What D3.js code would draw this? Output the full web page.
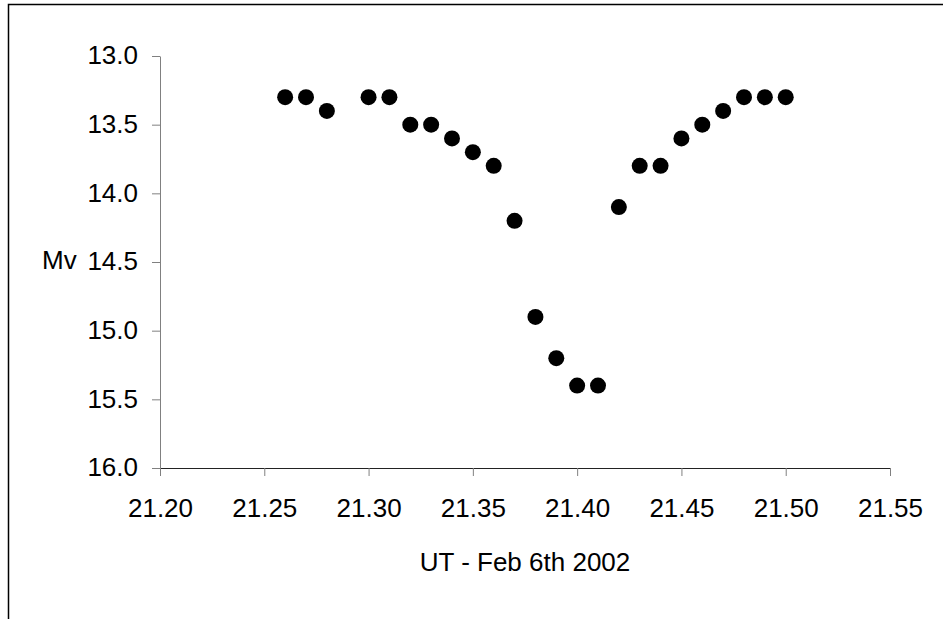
<!DOCTYPE html>
<html>
<head>
<meta charset="utf-8">
<script src="https://cdn.jsdelivr.net/npm/d3@7"></script>
<style>
  body { margin: 0; background: #fff; }
  text { font-family: Arial, "Liberation Sans", sans-serif; }
</style>
</head>
<body>
<div class="graphArea"></div>
<script>
// UT times and magnitudes
const times = [21.26, 21.27, 21.28, 21.30, 21.31, 21.32, 21.33, 21.34, 21.35, 21.36,
  21.37, 21.38, 21.39, 21.40, 21.41, 21.42, 21.43, 21.44, 21.45, 21.46,
  21.47, 21.48, 21.49, 21.50];
const mags = [13.3, 13.3, 13.4, 13.3, 13.3, 13.5, 13.5, 13.6, 13.7, 13.8,
  14.2, 14.9, 15.2, 15.4, 15.4, 14.1, 13.8, 13.8, 13.6, 13.5,
  13.4, 13.3, 13.3, 13.3];
const xTicks = [21.20, 21.25, 21.30, 21.35, 21.40, 21.45, 21.50, 21.55];
const yTicks = [13.0, 13.5, 14.0, 14.5, 15.0, 15.5, 16.0];

let width = 943,
  height = 619;
let plot = { left: 160, right: 890, top: 56, bottom: 468 };
let fontSize = 26;

const svg = d3
  .select(".graphArea")
  .append("svg")
  .attr("width", width)
  .attr("height", height);

// outer chart frame (only left and top edges fall inside the picture)
svg
  .append("rect")
  .attr("x", 8.5)
  .attr("y", 4.5)
  .attr("width", 1000)
  .attr("height", 1000)
  .attr("fill", "none")
  .attr("stroke", "#000")
  .attr("stroke-width", 1.5);

const x = d3.scaleLinear().domain([21.2, 21.55]).range([plot.left, plot.right]);
// magnitude axis runs downward
const y = d3.scaleLinear().domain([13, 16]).range([plot.top, plot.bottom]);

const xAxis = svg
  .append("g")
  .attr("transform", "translate(0," + plot.bottom + ")")
  .call(
    d3.axisBottom(x)
      .tickValues(xTicks)
      .tickFormat(d3.format(".2f"))
      .tickSizeInner(8)
      .tickSizeOuter(0)
  );
xAxis.select(".domain").attr("stroke", "#222");
xAxis.selectAll(".tick line").attr("stroke", "#808080");
xAxis
  .selectAll("text")
  .attr("font-size", fontSize)
  .attr("fill", "#000")
  .attr("font-family", "Arial, 'Liberation Sans', sans-serif")
  .attr("dy", null)
  .attr("y", 49);

const yAxis = svg
  .append("g")
  .attr("transform", "translate(" + plot.left + ",0)")
  .call(
    d3.axisLeft(y)
      .tickValues(yTicks)
      .tickFormat(d3.format(".1f"))
      .tickSizeInner(8)
      .tickSizeOuter(0)
      .tickPadding(14)
  );
yAxis.select(".domain").attr("stroke", "#808080");
yAxis.selectAll(".tick line").attr("stroke", "#808080");
yAxis
  .selectAll("text")
  .attr("font-size", fontSize)
  .attr("fill", "#000")
  .attr("font-family", "Arial, 'Liberation Sans', sans-serif")
  .attr("dy", "0.3em");

// points
svg
  .append("g")
  .selectAll("circle")
  .data(times)
  .enter()
  .append("circle")
  .attr("cx", d => x(d))
  .attr("cy", (d, i) => y(mags[i]))
  .attr("r", 8)
  .attr("fill", "#000");

// axis titles
svg
  .append("text")
  .attr("x", (plot.left + plot.right) / 2)
  .attr("y", 571)
  .attr("text-anchor", "middle")
  .attr("font-size", fontSize)
  .text("UT - Feb 6th 2002");

svg
  .append("text")
  .attr("x", 42)
  .attr("y", 269)
  .attr("font-size", fontSize)
  .text("Mv");
</script>
</body>
</html>
